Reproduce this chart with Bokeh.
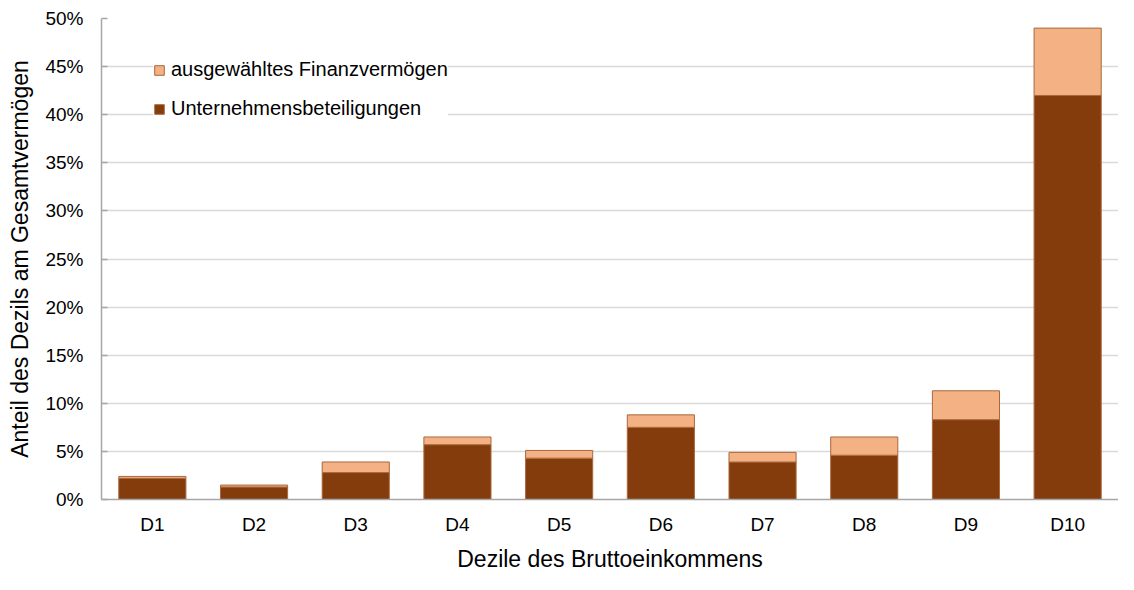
from bokeh.plotting import figure
from bokeh.models import (Range1d, FixedTicker, PrintfTickFormatter, Legend, LegendItem,
                          ColumnDataSource)
from bokeh.embed import file_html
from bokeh.resources import INLINE

categories = ["D1", "D2", "D3", "D4", "D5", "D6", "D7", "D8", "D9", "D10"]
unternehmen = [2.2, 1.3, 2.8, 5.7, 4.3, 7.5, 3.9, 4.6, 8.3, 42.0]
finanz = [0.2, 0.2, 1.1, 0.8, 0.8, 1.3, 1.0, 1.9, 3.0, 7.0]
y_ticks = [0, 5, 10, 15, 20, 25, 30, 35, 40, 45, 50]

FONT = "Liberation Sans"
DARK = "#843C0C"
LIGHT = "#F4B183"
EDGE = "#A8683E"

src = ColumnDataSource(dict(cat=categories, u=unternehmen, f=finanz))

p = figure(x_range=categories, y_range=Range1d(0, 50), width=1118, height=574,
           output_backend="svg", toolbar_location=None,
           min_border_left=101, min_border_right=0, min_border_top=18, min_border_bottom=0)

r = p.vbar_stack(["u", "f"], x="cat", width=0.66, source=src,
                 color=[DARK, LIGHT], line_color=EDGE, line_width=1)

p.outline_line_color = None
p.xgrid.grid_line_color = None
p.ygrid.grid_line_color = "#D9D9D9"
p.ygrid.grid_line_width = 1.5
p.yaxis.ticker = FixedTicker(ticks=y_ticks)
p.yaxis.formatter = PrintfTickFormatter(format="%d%%")

for ax in (p.xaxis[0], p.yaxis[0]):
    ax.axis_line_color = "#A6A6A6"
    ax.axis_line_width = 1.5
    ax.major_label_text_font = FONT
    ax.major_label_text_font_size = "19px"
    ax.major_label_text_color = "#000000"
    ax.axis_label_text_font = FONT
    ax.axis_label_text_font_size = "23px"
    ax.axis_label_text_font_style = "normal"
    ax.axis_label_text_color = "#000000"
    ax.minor_tick_line_color = None

p.yaxis.major_tick_in = 6
p.yaxis.major_tick_out = 0
p.yaxis.major_tick_line_color = "#A6A6A6"
p.yaxis.major_tick_line_width = 1.5
p.yaxis.major_label_standoff = 18
p.yaxis.axis_label = "Anteil des Dezils am Gesamtvermögen"
p.yaxis.axis_label_standoff = 9

p.xaxis.major_tick_line_color = None
p.xaxis.major_tick_in = 0
p.xaxis.major_tick_out = 0
p.xaxis.major_label_standoff = 14
p.xaxis.axis_label = "Dezile des Bruttoeinkommens"
p.xaxis.axis_label_standoff = 8
p.x_range.range_padding = 0

legend = Legend(items=[LegendItem(label="ausgewähltes Finanzvermögen", renderers=[r[1]]),
                       LegendItem(label="Unternehmensbeteiligungen", renderers=[r[0]])],
                location=(52, 379))
legend.label_text_font = FONT
legend.label_text_font_size = "20px"
legend.label_text_color = "#000000"
legend.glyph_width = 12
legend.glyph_height = 12
legend.spacing = 16
legend.label_standoff = 6
legend.padding = 12
legend.margin = 0
legend.border_line_color = None
legend.background_fill_color = "white"
legend.background_fill_alpha = 1.0
p.add_layout(legend)

open("out.html", "w").write(file_html(p, INLINE))
